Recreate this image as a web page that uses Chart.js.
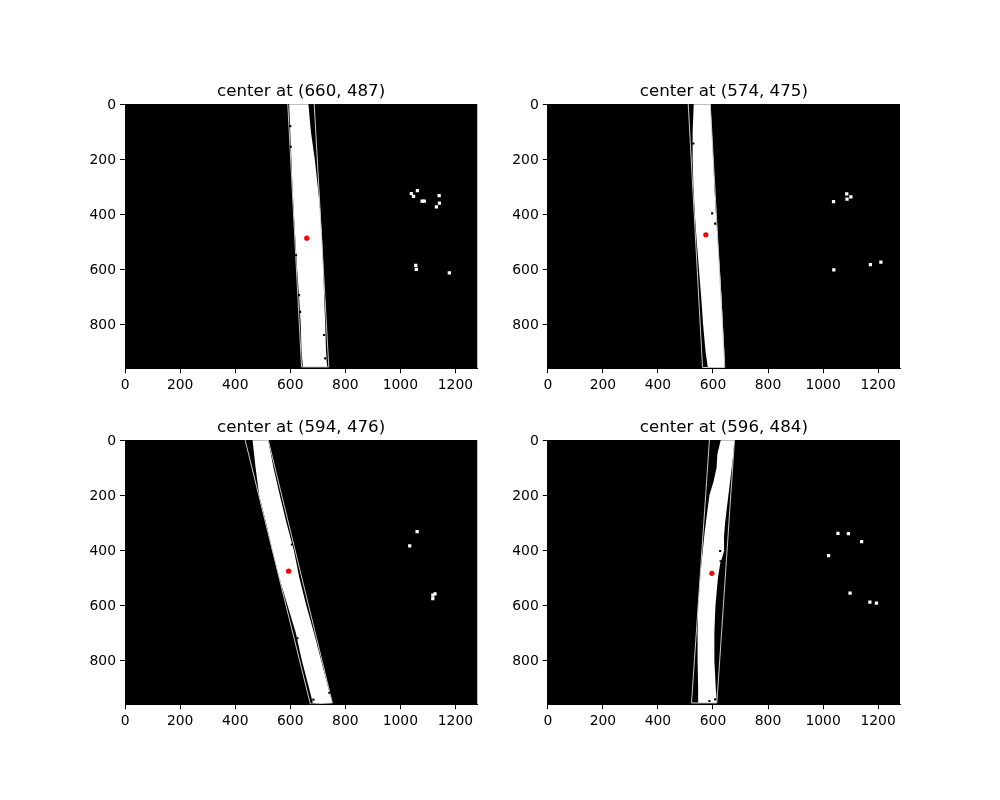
<!DOCTYPE html>
<html>
<head>
<meta charset="utf-8">
<script src="https://cdn.jsdelivr.net/npm/chart.js@4"></script>
<style>
  html, body { margin: 0; background: #fff; }
  canvas { position: absolute; }
</style>
</head>
<body>
<canvas id="panel1" width="472" height="326" style="left:65px;top:82px"></canvas>
<canvas id="panel2" width="472" height="326" style="left:488px;top:82px"></canvas>
<canvas id="panel3" width="472" height="326" style="left:65px;top:418px"></canvas>
<canvas id="panel4" width="472" height="326" style="left:488px;top:418px"></canvas>
<script>
const xTicks = [0, 200, 400, 600, 800, 1000, 1200];
const yTicks = [0, 200, 400, 600, 800];

const titles = ["center at (660, 487)", "center at (574, 475)", "center at (594, 476)", "center at (596, 484)"];
const centerX = [660, 574, 594, 596];
const centerY = [487, 475, 476, 484];

// rows of the white band
const rows = [0, 100, 200, 300, 400, 500, 600, 700, 800, 900, 955];
const rows4 = [0, 50, 100, 150, 200, 300, 350, 400, 450, 500, 600, 700, 800, 900, 955];

const band1Left = [596, 600, 604, 608, 613, 619, 625, 632, 638, 641, 646];
const band1Right = [666, 675, 689, 700, 710, 716, 720, 723, 727, 730, 734];
const band2Left = [530, 526, 526, 529, 534, 541, 549, 557, 564, 573, 581];
const band2Right = [591, 596, 601, 605, 611, 618, 625, 631, 636, 641, 642];
const band3Left = [463, 474, 487, 512, 535, 560, 590, 620, 642, 668, 682];
const band3Right = [520, 539, 562, 586, 613, 633, 658, 686, 712, 738, 753];
const band4Left = [628, 616, 613, 602, 587, 574, 568, 563, 558, 553, 546, 544, 544, 546, 546];
const band4Right = [678, 674, 668, 662, 656, 644, 640, 641, 626, 618, 609, 605, 605, 610, 614];

// thin outline round each band: top left, bottom left, bottom right, top right
const box1X = [591, 641, 740, 687];
const box1Y = [0, 955, 955, 0];
const box2X = [510, 562, 643, 590];
const box2Y = [0, 957, 957, 0];
const box3X = [436, 673, 753, 520];
const box3Y = [0, 959, 955, 0];
const box4X = [587, 522, 614, 678];
const box4Y = [0, 955, 955, 0];

// small white blobs right of the band
const specks1X = [1040, 1048, 1062, 1079, 1087, 1141, 1142, 1131, 1056, 1058, 1178];
const specks1Y = [325, 335, 314, 352, 352, 332, 360, 373, 586, 600, 613];
const specks2X = [1086, 1087, 1101, 1038, 1039, 1172, 1210];
const specks2Y = [326, 345, 337, 354, 602, 583, 574];
const specks3X = [1061, 1034, 1126, 1118, 1118];
const specks3Y = [332, 384, 559, 563, 576];
const specks4X = [1054, 1092, 1140, 1020, 1098, 1170, 1194];
const specks4Y = [339, 340, 369, 420, 556, 589, 592];

// dark flecks on the band edges
const flecks1X = [600, 602, 621, 632, 636, 723, 727];
const flecks1Y = [80, 155, 549, 694, 755, 839, 924];
const flecks2X = [529, 608, 597];
const flecks2Y = [143, 434, 397];
const flecks3X = [606, 626, 742, 684];
const flecks3Y = [379, 720, 918, 943];
const flecks4X = [626, 628, 608, 587];
const flecks4Y = [403, 440, 942, 948];

function pts(xs, ys) {
  return xs.map((x, i) => ({ x: x, y: ys[i] }));
}

const blackArea = {
  id: "blackArea",
  beforeDatasetsDraw(chart) {
    const a = chart.chartArea;
    chart.ctx.save();
    chart.ctx.fillStyle = "#000";
    chart.ctx.fillRect(a.left, a.top, a.right - a.left, a.bottom - a.top);
    chart.ctx.restore();
  },
};

function axis(tickValues, reverse, maxValue, labelOffset, afterFit) {
  return {
    type: "linear",
    min: -0.5,
    max: maxValue,
    reverse: reverse,
    afterBuildTicks: (scale) => {
      scale.ticks = tickValues.map((v) => ({ value: v }));
    },
    afterFit: afterFit,
    border: { display: true, color: "#000", width: 1 },
    grid: { drawOnChartArea: false, tickLength: 5, tickColor: "#000", tickWidth: 1 },
    ticks: {
      color: "#000",
      padding: 4,
      labelOffset: labelOffset,
      maxRotation: 0,
      autoSkip: false,
      font: { family: "DejaVu Sans", size: 13.9 },
      callback: (v) => String(v),
    },
  };
}

function drawPanel(id, n, bandRows, left, right, boxX, boxY, specksX, specksY, flecksX, flecksY, axisWidth) {
  const band = pts(left, bandRows).concat(pts(right, bandRows).reverse());
  new Chart(document.getElementById(id), {
    type: "scatter",
    plugins: [blackArea],
    data: {
      datasets: [
        { data: [{ x: centerX[n], y: centerY[n] }], pointStyle: "circle", pointRadius: 2.6, pointBorderWidth: 0, backgroundColor: "#ff0000" },
        { data: pts(specksX, specksY), pointStyle: "rect", pointRadius: 2.3, pointBorderWidth: 0, backgroundColor: "#fff" },
        { data: pts(flecksX, flecksY), pointStyle: "rect", pointRadius: 1.5, pointBorderWidth: 0, backgroundColor: "#000" },
        { data: pts(boxX, boxY), showLine: true, borderColor: "#c8c8c8", borderWidth: 1, pointRadius: 0, fill: false },
        { data: band, showLine: true, borderWidth: 0, pointRadius: 0, fill: "shape", backgroundColor: "#fff" },
      ],
    },
    options: {
      responsive: false,
      animation: false,
      devicePixelRatio: 1,
      layout: { autoPadding: false, padding: { left: 0, top: 0, right: 472 - axisWidth - 352.27, bottom: 9.8 } },
      plugins: {
        legend: { display: false },
        tooltip: { enabled: false },
        title: {
          display: true,
          fullSize: false,
          text: titles[n],
          color: "#000",
          font: { family: "DejaVu Sans", size: 16.67, weight: "normal", lineHeight: 1.2 },
          padding: { top: 0, bottom: 2 },
        },
      },
      scales: {
        x: axis(xTicks, false, 1279.5, 0, (s) => { s.height = 30; }),
        y: axis(yTicks, true, 959.5, 1, (s) => { s.width = axisWidth; }),
      },
    },
  });
}

drawPanel("panel1", 0, rows, band1Left, band1Right, box1X, box1Y, specks1X, specks1Y, flecks1X, flecks1Y, 60);
drawPanel("panel2", 1, rows, band2Left, band2Right, box2X, box2Y, specks2X, specks2Y, flecks2X, flecks2Y, 59.73);
drawPanel("panel3", 2, rows, band3Left, band3Right, box3X, box3Y, specks3X, specks3Y, flecks3X, flecks3Y, 60);
drawPanel("panel4", 3, rows4, band4Left, band4Right, box4X, box4Y, specks4X, specks4Y, flecks4X, flecks4Y, 59.73);
</script>
</body>
</html>
